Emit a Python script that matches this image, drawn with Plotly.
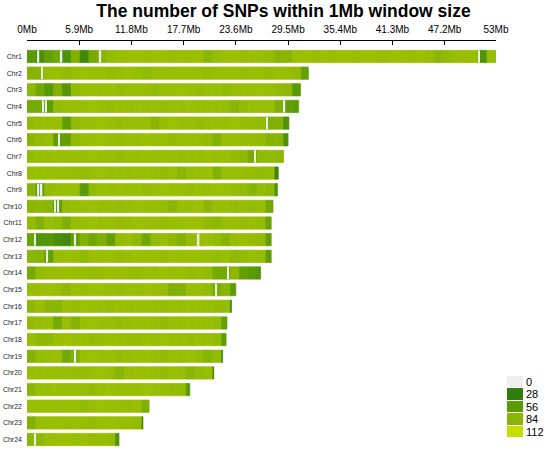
import plotly.graph_objects as go

# chromosome names and lengths (Mb)
chroms = ["Chr%d" % i for i in range(1, 25)]
chrom_len = [53.0, 31.8, 30.9, 30.7, 29.6, 29.5, 29.0, 28.4, 28.3, 27.8, 27.6, 27.6,
             27.6, 26.4, 23.6, 23.1, 22.6, 22.5, 22.1, 21.1, 18.4, 13.8, 13.1, 10.4]

# SNP counts per 1Mb window
chr1 = [55, 45, 62, 70, 48, 80, 40, 72, 82, 88, 90, 91, 92, 90, 91, 92, 90, 91, 90, 92,
        84, 88, 91, 92, 90, 91, 90, 88, 82, 84, 91, 92, 90, 91, 90, 92, 91, 90, 92, 91,
        90, 92, 91, 90, 92, 90, 85, 87, 90, 91, 90, 50, 90]
chr2 = [82, 84, 90, 91, 88, 90, 92, 90, 91, 89, 90, 92, 90, 88, 90, 91, 90, 92, 91, 90,
        89, 90, 91, 92, 90, 91, 90, 89, 91, 90, 88, 62]
chr3 = [86, 70, 55, 80, 52, 88, 90, 91, 90, 92, 89, 90, 91, 90, 88, 91, 90, 92, 90, 89,
        91, 90, 88, 90, 91, 90, 92, 90, 88, 86, 55]
chr4 = [72, 72, 58, 88, 90, 91, 90, 92, 90, 89, 91, 90, 92, 90, 91, 89, 90, 91, 92, 90,
        91, 90, 89, 84, 88, 90, 91, 90, 78, 62, 58]
chr5 = [88, 90, 91, 90, 60, 88, 90, 91, 92, 90, 89, 90, 91, 90, 84, 90, 92, 90, 91, 89,
        90, 91, 90, 92, 90, 89, 88, 78, 80, 48]
chr6 = [84, 88, 90, 60, 62, 88, 90, 91, 92, 90, 89, 91, 90, 92, 90, 91, 89, 90, 91, 90,
        88, 80, 90, 91, 90, 89, 88, 82, 82, 48]
chr7 = [88, 90, 91, 92, 90, 91, 90, 92, 91, 90, 89, 91, 90, 92, 90, 91, 90, 89, 91, 90,
        92, 90, 91, 88, 86, 72, 86, 88, 86]
chr8 = [90, 91, 92, 90, 91, 90, 89, 91, 92, 90, 91, 90, 92, 91, 90, 89, 91, 84, 90, 91,
        92, 80, 90, 91, 90, 89, 88, 90, 40]
chr9 = [84, 58, 88, 90, 91, 90, 55, 88, 91, 90, 92, 90, 91, 89, 90, 92, 91, 90, 89, 91,
        90, 92, 91, 90, 88, 82, 88, 86, 48]
chr10 = [84, 86, 84, 58, 88, 90, 91, 92, 90, 91, 89, 90, 92, 91, 90, 89, 84, 91, 90, 92,
         85, 90, 91, 89, 90, 88, 90, 70]
chr11 = [88, 80, 90, 88, 78, 90, 91, 92, 90, 91, 89, 90, 92, 91, 90, 89, 91, 90, 92, 91,
         88, 86, 90, 91, 89, 90, 88, 65]
chr12 = [65, 50, 52, 45, 40, 62, 80, 68, 78, 62, 88, 90, 86, 70, 88, 90, 86, 80, 88, 90,
         91, 88, 82, 90, 91, 89, 88, 62]
chr13 = [84, 82, 62, 90, 91, 90, 86, 92, 90, 91, 89, 90, 92, 91, 90, 89, 91, 90, 92, 91,
         90, 89, 91, 86, 88, 90, 89, 60]
chr14 = [72, 88, 90, 91, 92, 90, 91, 89, 90, 92, 91, 90, 89, 91, 90, 92, 90, 91, 89, 90,
         88, 72, 70, 86, 62, 55, 50]
chr15 = [90, 91, 92, 90, 86, 91, 90, 92, 91, 90, 89, 91, 90, 92, 90, 89, 78, 80, 90, 91,
         88, 75, 84, 58]
chr16 = [86, 90, 84, 84, 91, 90, 92, 91, 90, 89, 91, 90, 92, 91, 90, 89, 91, 90, 92, 91,
         90, 89, 88, 30]
chr17 = [88, 90, 91, 72, 90, 80, 91, 92, 90, 91, 89, 90, 92, 91, 90, 89, 91, 90, 92, 91,
         90, 88, 62]
chr18 = [90, 86, 86, 91, 92, 90, 91, 89, 90, 92, 91, 90, 89, 91, 90, 92, 91, 90, 89, 91,
         90, 88, 58]
chr19 = [80, 88, 90, 91, 70, 80, 91, 92, 90, 91, 89, 90, 92, 91, 90, 89, 91, 90, 92, 88,
         82, 88, 35]
chr20 = [90, 91, 92, 90, 91, 90, 89, 91, 92, 90, 84, 90, 92, 91, 90, 89, 91, 90, 84, 88,
         90, 35]
chr21 = [84, 90, 91, 92, 90, 91, 90, 89, 91, 92, 90, 91, 90, 92, 91, 90, 89, 88, 55]
chr22 = [90, 91, 92, 90, 91, 90, 88, 90, 92, 91, 90, 89, 90, 78]
chr23 = [80, 90, 91, 92, 90, 91, 90, 89, 91, 92, 90, 91, 88, 35]
chr24 = [84, 86, 90, 91, 92, 90, 91, 89, 90, 88, 50]

# positions (Mb) of empty windows (0 SNPs)
gap_chrom = ["Chr1", "Chr1", "Chr1", "Chr1", "Chr2", "Chr4", "Chr4", "Chr4", "Chr5", "Chr6",
             "Chr7", "Chr9", "Chr9", "Chr10", "Chr10", "Chr12", "Chr12", "Chr12", "Chr13",
             "Chr14", "Chr15", "Chr19", "Chr24"]
gap_pos = [1.3, 3.9, 8.3, 51.1, 1.7, 1.85, 2.15, 29.1, 27.1, 3.65,
           25.8, 1.3, 1.65, 3.2, 3.55, 0.9, 5.4, 19.4, 2.3,
           22.7, 21.4, 5.4, 0.9]

# axis ticks and legend
tick_vals = [0, 5.9, 11.8, 17.7, 23.6, 29.5, 35.4, 41.3, 47.2, 53]
tick_text = ["0Mb", "5.9Mb", "11.8Mb", "17.7Mb", "23.6Mb", "29.5Mb", "35.4Mb", "41.3Mb", "47.2Mb", "53Mb"]
legend_levels = [0, 28, 56, 84, 112]

all_counts = [chr1, chr2, chr3, chr4, chr5, chr6, chr7, chr8, chr9, chr10, chr11, chr12,
              chr13, chr14, chr15, chr16, chr17, chr18, chr19, chr20, chr21, chr22, chr23, chr24]

cscale = [[0, "#EEEEEE"], [0.25, "#2E7D0E"], [0.5, "#5A9A05"], [0.75, "#8AB503"], [1, "#C5DD00"]]

#build window segments
seg_y, seg_base, seg_w, seg_c = [], [], [], []
for name, L, cnts in zip(chroms, chrom_len, all_counts):
    for i, c in enumerate(cnts):
        seg_y.append(name)
        seg_base.append(i)
        seg_w.append(min(1.0, L - i))
        seg_c.append(c)
n_win = len(seg_c)
for name, p in zip(gap_chrom, gap_pos):
    seg_y.append(name)
    seg_base.append(p - 0.08)
    seg_w.append(0.16)
    seg_c.append(0)

fig = go.Figure()

# windows (outlined in their own colour so neighbours join without seams)
fig.add_trace(go.Bar(
    y=seg_y[:n_win], x=seg_w[:n_win], base=seg_base[:n_win], orientation="h",
    marker=dict(color=seg_c[:n_win], colorscale=cscale, cmin=0, cmax=112,
                line=dict(width=0.7, color=seg_c[:n_win], colorscale=cscale, cmin=0, cmax=112)),
    showlegend=False, hoverinfo="skip"))

# empty windows on top
fig.add_trace(go.Bar(
    y=seg_y[n_win:], x=seg_w[n_win:], base=seg_base[n_win:], orientation="h",
    marker=dict(color=seg_c[n_win:], colorscale=cscale, cmin=0, cmax=112, line=dict(width=0)),
    showlegend=False, hoverinfo="skip"))

#legend blocks
fig.add_trace(go.Heatmap(
    z=[[v] for v in legend_levels], x=[0], y=[str(v) for v in legend_levels],
    colorscale=cscale, zmin=0, zmax=112, showscale=False, ygap=1,
    xaxis="x2", yaxis="y2", hoverinfo="skip"))

fig.update_layout(
    width=550, height=452,
    margin=dict(l=27, r=4, t=41, b=0),
    paper_bgcolor="white", plot_bgcolor="white",
    font=dict(family="Liberation Sans, Arial", color="black"),
    barmode="overlay", bargap=0.26,
    title=dict(text="<b>The number of SNPs within 1Mb window size</b>",
               font=dict(size=17.5, color="black"),
               x=283.5 / 550, xanchor="center", xref="container",
               y=1 - 11 / 452, yanchor="middle", yref="container"),
    xaxis=dict(domain=[0, 469 / 519], range=[0, 53], side="top",
               showline=True, linecolor="black", linewidth=1,
               ticks="inside", ticklen=4, tickcolor="black",
               tickvals=tick_vals, ticktext=tick_text, tickfont=dict(size=10),
               ticklabelstandoff=3,
               showgrid=False, zeroline=False, automargin=False),
    yaxis=dict(categoryorder="array", categoryarray=chroms, range=[23.75, -0.93],
               showgrid=False, zeroline=False, ticks="", showline=False,
               tickfont=dict(size=7, color="#222222"), ticklabelstandoff=4,
               automargin=False),
    xaxis2=dict(domain=[480 / 519, 496 / 519], anchor="y2", visible=False),
    yaxis2=dict(domain=[14 / 411, 76 / 411], anchor="x2", side="right",
                autorange="reversed", showgrid=False, zeroline=False, ticks="",
                tickmode="array", tickvals=[str(v) for v in legend_levels],
                tickfont=dict(size=11), ticklabelstandoff=2, automargin=False),
)

# page body has a default 8px margin; drop it so the figure sits at the top-left corner
fig.write_html("out.html", config={"displayModeBar": False},
               post_script="document.body.style.margin='0px';")
